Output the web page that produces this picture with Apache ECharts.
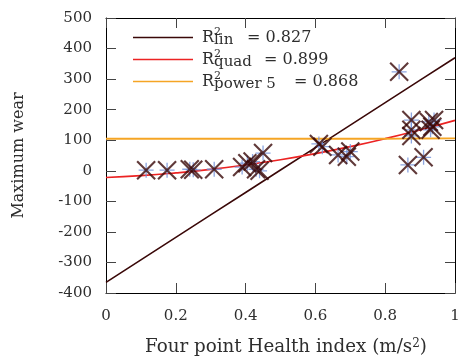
<!DOCTYPE html>
<html><head><meta charset="utf-8">
<script src="https://cdn.jsdelivr.net/npm/echarts@6/dist/echarts.min.js"></script>
<style>html,body{margin:0;padding:0;background:#fff}#c{width:460px;height:356px}</style>
</head><body><div id="c"></div>
<script>
// Measured samples (x = health index, y = maximum wear)
const pointX = [0.115, 0.175, 0.24, 0.25, 0.31, 0.39, 0.405, 0.42, 0.43, 0.44, 0.45, 0.61, 0.62, 0.665, 0.69, 0.70, 0.84, 0.865, 0.875, 0.875, 0.875, 0.91, 0.925, 0.93, 0.935, 0.94];
const pointY = [2, 2, 5, 3, 5, 12, 25, 30, 5, 0, 58, 88, 79, 52, 46, 63, 324, 19, 166, 134, 114, 44, 160, 134, 144, 166];
// Fitted curves at x = 0, 0.1, ..., 1
const fitX = [0, 0.1, 0.2, 0.3, 0.4, 0.5, 0.6, 0.7, 0.8, 0.9, 1.0];
const linY = [-365, -291.5, -218, -144.5, -71, 2.5, 76, 149.5, 223, 296.5, 370];
const quadY = [-22, -16, -7, 4.5, 19, 36, 56, 79, 105, 134, 165];
const powY = [105, 105, 105, 105, 105, 105, 105, 105, 105, 105.5, 106];
const xTicks = [0, 0.2, 0.4, 0.6, 0.8, 1];
const yTicks = [-400, -300, -200, -100, 0, 100, 200, 300, 400, 500];
const fitNames = ['lin', 'quad', 'power'];
const fitSubs = ['lin', 'quad', 'power 5'];
const fitR2 = ['0.827', '0.899', '0.868'];

const FONT = 'DejaVu Serif';
const TXT = '#2e2e2e';
const pts = pointX.map((x, i) => [x, pointY[i]]);
const zip = ys => fitX.map((x, i) => [x, ys[i]]);
const subStyleKey = ['sa', 'sb', 'sc'];
const subWidths = [33, 50, 80];

const chart = echarts.init(document.getElementById('c'), null, {renderer: 'canvas'});
const axisCommon = {
  axisLine: {show: true, onZero: false, lineStyle: {color: '#000', width: 1}},
  axisTick: {show: true, inside: true, length: 10, lineStyle: {color: '#444', width: 1}},
  splitLine: {show: false},
  axisLabel: {fontFamily: FONT, fontSize: 15, color: TXT}
};
const rich = {
  r: {fontFamily: FONT, fontSize: 16, color: TXT, lineHeight: 21, verticalAlign: 'middle'},
  sup: {fontFamily: FONT, fontSize: 11, color: TXT, verticalAlign: 'top', lineHeight: 21, width: 0},
  eq: {fontFamily: FONT, fontSize: 16, color: TXT, lineHeight: 21, verticalAlign: 'middle'}
};
subStyleKey.forEach((k, i) => {
  rich[k] = {fontFamily: FONT, fontSize: 15, fontWeight: 'normal', color: TXT, verticalAlign: 'bottom', lineHeight: 21, width: subWidths[i], align: 'left'};
});
const legendIcon = 'path://M0,0H60V1.7H0Z';
chart.setOption({
  animation: false,
  grid: {left: 106, right: 5, top: 18, bottom: 63, containLabel: false, outerBoundsMode: 'none'},
  xAxis: [
    Object.assign({}, axisCommon, {type: 'value', min: 0, max: 1, interval: 0.2, position: 'bottom',
      name: 'Four point Health index (m/s{s|2})', nameLocation: 'middle', nameGap: 45,
      nameTextStyle: {fontFamily: FONT, fontSize: 18.3, color: TXT, padding: [0, 0, 0, 11],
        rich: {s: {fontFamily: FONT, fontSize: 12, verticalAlign: 'top', lineHeight: 19, color: TXT}}},
      axisLabel: Object.assign({}, axisCommon.axisLabel, {margin: 16,
        formatter: v => String(xTicks.find(t => Math.abs(t - v) < 1e-9) ?? v)})}),
    Object.assign({}, axisCommon, {type: 'value', min: 0, max: 1, interval: 0.2, position: 'top', axisLabel: {show: false}})
  ],
  yAxis: [
    Object.assign({}, axisCommon, {type: 'value', min: -400, max: 500, interval: 100, position: 'left',
      name: 'Maximum wear', nameLocation: 'middle', nameGap: 79,
      nameTextStyle: {fontFamily: FONT, fontSize: 16, color: TXT},
      axisLabel: Object.assign({}, axisCommon.axisLabel, {margin: 14,
        formatter: v => String(yTicks.find(t => t === v) ?? v)})}),
    Object.assign({}, axisCommon, {type: 'value', min: -400, max: 500, interval: 100, position: 'right', axisLabel: {show: false}})
  ],
  legend: {
    left: 133, top: 27, padding: 0, orient: 'vertical', itemGap: 1, itemWidth: 60, itemHeight: 21,
    symbolKeepAspect: true,
    data: fitNames.map(n => ({name: n, icon: legendIcon})),
    formatter: n => {
      const i = fitNames.indexOf(n);
      return '{r|R}{sup|2}{' + subStyleKey[i] + '|' + fitSubs[i] + '}{eq|= ' + fitR2[i] + '}';
    },
    textStyle: {fontFamily: FONT, fontSize: 16, color: TXT, padding: [0, 0, 0, 4], rich: rich}
  },
  series: [
    {name: 'plus', type: 'scatter', data: pts, symbol: 'path://M5,0L5,10M0,5L10,5', symbolSize: 15,
     itemStyle: {color: 'rgba(0,0,0,0)', borderColor: '#6f8fd8', borderWidth: 1.3}, z: 3},
    {name: 'cross', type: 'scatter', data: pts, symbol: 'path://M0,0L10,10M10,0L0,10', symbolSize: 18,
     itemStyle: {color: 'rgba(0,0,0,0)', borderColor: '#380808', borderWidth: 2.1}, z: 4},
    {name: 'lin', type: 'line', data: zip(linY), symbol: 'none', lineStyle: {color: '#3a0808', width: 1.6}, itemStyle: {color: '#3a0808'}, z: 2},
    {name: 'quad', type: 'line', data: zip(quadY), symbol: 'none', smooth: true, lineStyle: {color: '#ec2323', width: 1.7}, itemStyle: {color: '#ec2323'}, z: 2},
    {name: 'power', type: 'line', data: zip(powY), symbol: 'none', smooth: true, lineStyle: {color: '#f5a524', width: 1.9}, itemStyle: {color: '#f5a524'}, z: 2}
  ]
});
</script></body></html>
